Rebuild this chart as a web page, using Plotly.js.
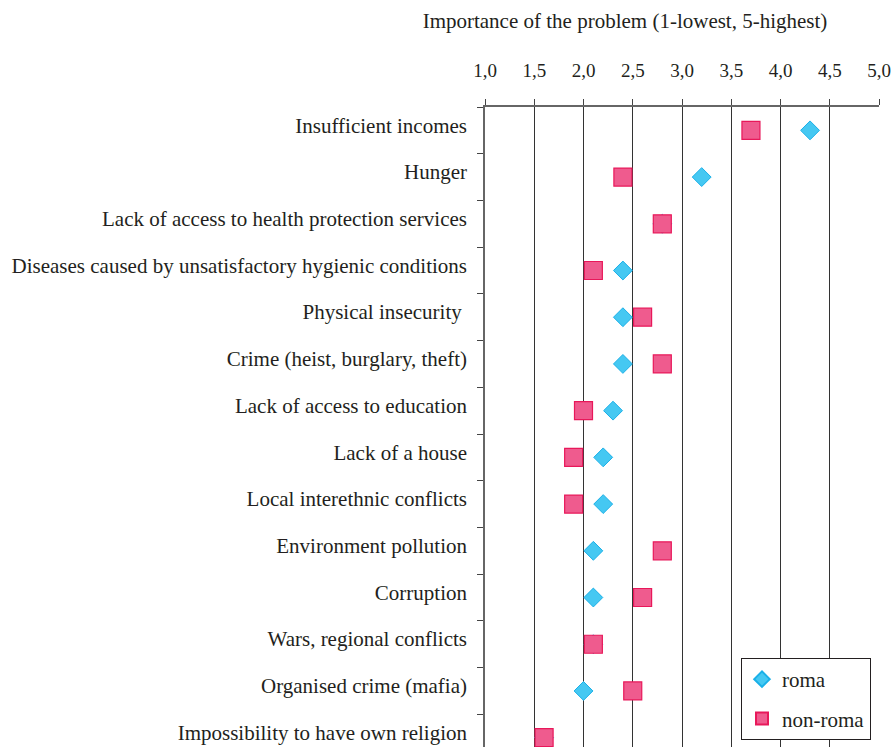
<!DOCTYPE html>
<html>
<head>
<meta charset="utf-8">
<script src="https://cdn.plot.ly/plotly-3.0.1.min.js"></script>
<style>html,body{margin:0;padding:0;background:#fff;}</style>
</head>
<body>
<div id="chart" style="width:893px;height:747px;"></div>
<script>
const categories = [
  "Insufficient incomes",
  "Hunger",
  "Lack of access to health protection services",
  "Diseases caused by unsatisfactory hygienic conditions",
  "Physical insecurity ",
  "Crime (heist, burglary, theft)",
  "Lack of access to education",
  "Lack of a house",
  "Local interethnic conflicts",
  "Environment pollution",
  "Corruption",
  "Wars, regional conflicts",
  "Organised crime (mafia)",
  "Impossibility to have own religion"
];
const roma    = [4.3, 3.2, 2.8, 2.4, 2.4, 2.4, 2.3, 2.2, 2.2, 2.1, 2.1, 2.1, 2.0, 1.6];
const nonRoma = [3.7, 2.4, 2.8, 2.1, 2.6, 2.8, 2.0, 1.9, 1.9, 2.8, 2.6, 2.1, 2.5, 1.6];
const xTicks  = [1.0, 1.5, 2.0, 2.5, 3.0, 3.5, 4.0, 4.5, 5.0];

const fontFam = "Liberation Serif, Times New Roman, serif";
const txt = "#231f20";

const yRange = [13.2, -0.5];
const labelLift = 0.11; // labels sit slightly above the marker row
const catIdx = categories.map((c, i) => i);

const traces = [
  {
    type: "scatter", mode: "markers", name: "roma",
    x: roma, y: categories, legendgroup: "a",
    marker: {symbol: "diamond", size: 14.5, color: "#45c8f2", line: {color: "#1ab0e8", width: 1}}
  },
  {
    type: "scatter", mode: "markers", name: "non-roma",
    x: nonRoma, y: categories, legendgroup: "b",
    marker: {symbol: "square", size: 18, color: "#ef5b8e", line: {color: "#e8185a", width: 1.2}}
  },
  {
    type: "scatter", mode: "markers", x: [], y: [], yaxis: "y2",
    showlegend: false, hoverinfo: "skip"
  }
];

const layout = {
  width: 893, height: 747,
  margin: {l: 485, r: 14, t: 107, b: 0},
  paper_bgcolor: "#fff", plot_bgcolor: "#fff",
  separators: ",.",
  font: {family: fontFam, size: 21, color: txt},
  title: {
    text: "Importance of the problem (1-lowest, 5-highest)",
    font: {family: fontFam, size: 21, color: txt},
    x: 625/893, xref: "container", xanchor: "center",
    y: 1 - 21/747, yref: "container", yanchor: "middle"
  },
  xaxis: {
    side: "top", range: [1, 5], tickvals: xTicks, tickformat: ".1f",
    showgrid: true, gridcolor: "#333", gridwidth: 1,
    showline: true, linecolor: "#666", linewidth: 2,
    ticks: "outside", ticklen: 6, tickcolor: "#444", tickwidth: 1,
    tickfont: {family: fontFam, size: 19, color: txt},
    ticklabelstandoff: 14,
    zeroline: false, fixedrange: true
  },
  yaxis: {
    type: "category", range: yRange,
    categoryorder: "array", categoryarray: categories,
    tickson: "boundaries",
    ticks: "outside", ticklen: 6, tickcolor: "#444", tickwidth: 1,
    showticklabels: false,
    showgrid: false,
    showline: true, linecolor: "#666", linewidth: 2,
    zeroline: false, fixedrange: true
  },
  yaxis2: {
    overlaying: "y", anchor: "x", side: "left",
    type: "linear", range: [yRange[0] + labelLift, yRange[1] + labelLift],
    tickmode: "array", tickvals: catIdx, ticktext: categories,
    ticks: "", showline: false, showgrid: false, zeroline: false,
    tickfont: {family: fontFam, size: 21, color: txt},
    ticklabelstandoff: 17,
    fixedrange: true
  },
  showlegend: true,
  legend: {
    x: (741-485)/394, xanchor: "left",
    y: 1 - (658-107)/640, yanchor: "top",
    bgcolor: "#fff", bordercolor: "#231f20", borderwidth: 1,
    font: {family: fontFam, size: 21, color: txt},
    traceorder: "grouped", tracegroupgap: 9,
    itemsizing: "constant"
  }
};

Plotly.newPlot("chart", traces, layout, {displayModeBar: false, staticPlot: true});
</script>
</body>
</html>
